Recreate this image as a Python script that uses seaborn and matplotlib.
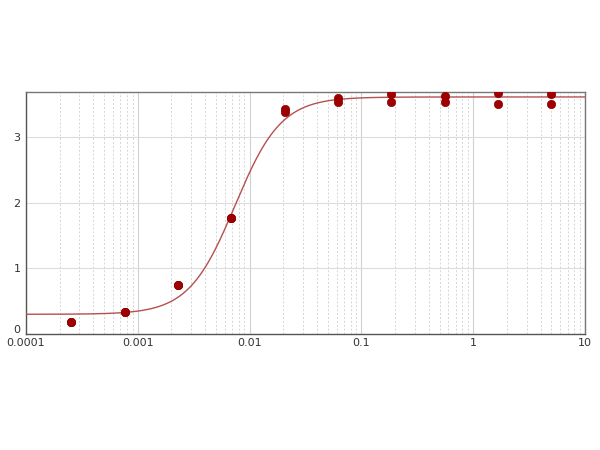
import numpy as np
import pandas as pd
import matplotlib
matplotlib.use("Agg")
import matplotlib.pyplot as plt
import matplotlib.transforms as mtransforms
import seaborn as sns
from matplotlib.ticker import LogLocator, FixedLocator, NullFormatter

# concentration series (3-fold dilution), duplicate readings
conc = [0.000254, 0.000762, 0.00229, 0.00686, 0.0206, 0.0617, 0.185, 0.556, 1.667, 5.0]
od_rep1 = [0.19, 0.33, 0.75, 1.77, 3.43, 3.60, 3.65, 3.62, 3.67, 3.66]
od_rep2 = [0.19, 0.33, 0.74, 1.77, 3.38, 3.53, 3.54, 3.54, 3.50, 3.51]

# 4PL fit parameters
fit_bottom = 0.30
fit_top = 3.61
fit_ec50 = 0.0074
fit_hill = 2.1

x_ticks = [0.0001, 0.001, 0.01, 0.1, 1, 10]
x_labels = ['0.0001', '0.001', '0.01', '0.1', '1', '10']
y_ticks = [0, 1, 2, 3]

df = pd.DataFrame({
    'conc': conc + conc,
    'od': od_rep1 + od_rep2,
})

xs = np.logspace(-4, 1, 400)
curve = pd.DataFrame({
    'conc': xs,
    'od': fit_bottom + (fit_top - fit_bottom) / (1 + (fit_ec50 / xs) ** fit_hill),
})

sns.set_theme(style="white")
plt.rcParams['font.family'] = ['DejaVu Sans']

fig = plt.figure(figsize=(6, 4.5), dpi=100)
ax = fig.add_axes([0.0433, 0.2578, 0.9317, 0.5384])

ax.set_xscale('log')
ax.set_xlim(0.0001, 10)
ax.set_ylim(0, 3.69)

sns.lineplot(data=curve, x='conc', y='od', ax=ax, color='#b5504f', linewidth=1.0, zorder=3)
sns.scatterplot(data=df, x='conc', y='od', ax=ax, color='#a00000', s=36,
                edgecolor='#8a0000', linewidth=0.5, zorder=4)

# grid
ax.xaxis.set_major_locator(FixedLocator(x_ticks))
ax.xaxis.set_minor_locator(LogLocator(base=10, subs=np.arange(2, 10)))
ax.xaxis.set_minor_formatter(NullFormatter())
ax.set_xticklabels(x_labels)
ax.set_yticks(y_ticks)
ax.grid(which='major', axis='x', color='#d0d0d0', linewidth=0.8, linestyle='-')
ax.grid(which='minor', axis='x', color='#d5d5d5', linewidth=0.7, linestyle=(0, (2, 2)))
ax.grid(which='major', axis='y', color='#dcdcdc', linewidth=0.8, linestyle='-')
ax.set_axisbelow(True)

ax.tick_params(axis='both', which='both', length=0, labelsize=8, colors='#333333')
ax.tick_params(axis='x', pad=3)
ax.tick_params(axis='y', pad=4)
for side in ['left', 'bottom']:
    ax.spines[side].set_color('#555555')
    ax.spines[side].set_linewidth(1.0)
for side in ['top', 'right']:
    ax.spines[side].set_color('#777777')
    ax.spines[side].set_linewidth(1.0)

# nudge the "0" label up a little so it clears the corner x label
zero_lbl = ax.get_yticklabels()[0]
zero_lbl.set_transform(zero_lbl.get_transform() +
                       mtransforms.ScaledTranslation(0, 3.5 / 72, fig.dpi_scale_trans))

ax.set_xlabel('')
ax.set_ylabel('')
if ax.get_legend() is not None:
    ax.get_legend().remove()

fig.savefig('out.png', dpi=100)
